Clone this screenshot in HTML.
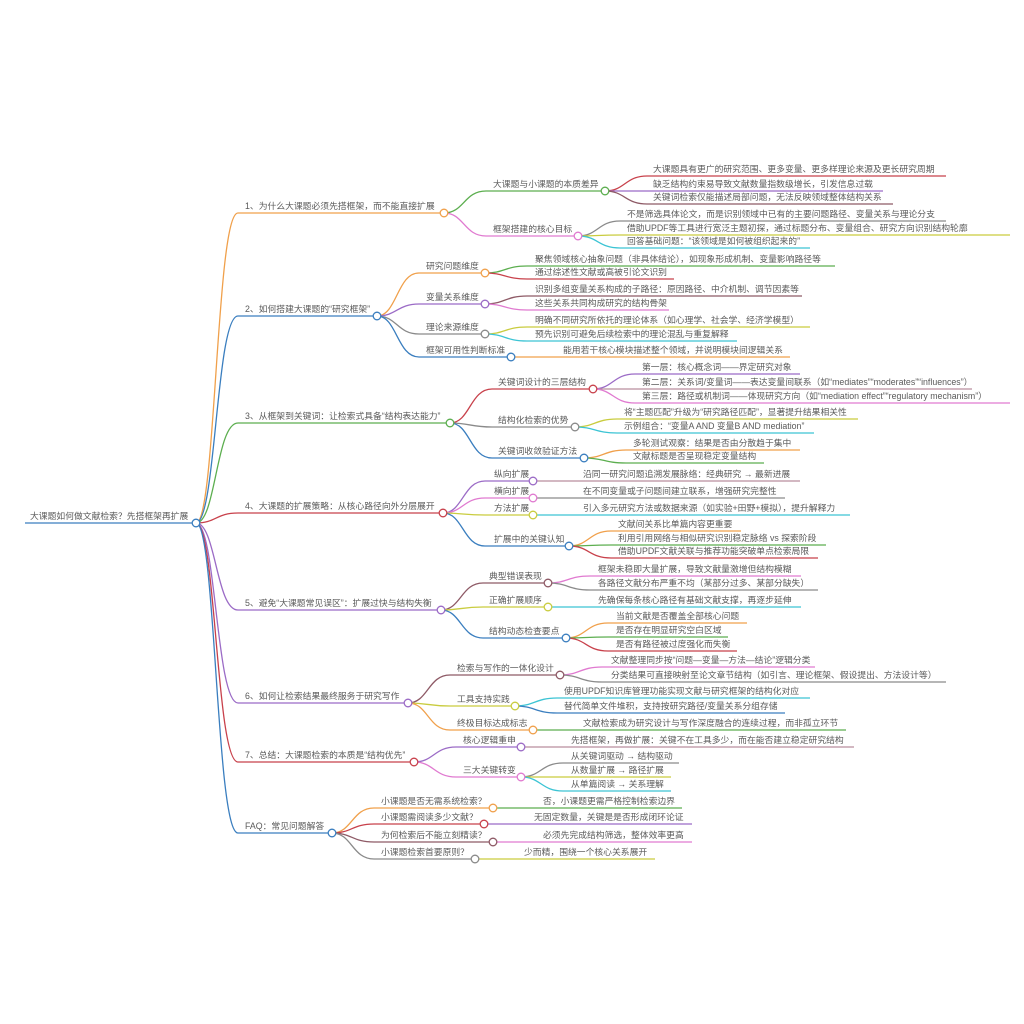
<!DOCTYPE html>
<html><head><meta charset="utf-8"><style>
html,body{margin:0;padding:0;background:#fff;width:1024px;height:1024px;overflow:hidden}
svg text{font-family:"Liberation Sans","Noto Sans CJK SC",sans-serif;font-size:8.8px;fill:#5a5a5a}
</style></head><body>
<svg id="s" width="1024" height="1024" xmlns="http://www.w3.org/2000/svg"></svg>
<script>
var O='#f0a04b',B='#3a7ebf',G='#5cae4f',R='#c8414b',P='#9b6bc6',K='#e07ad0',Y='#8a8a8a',L='#c9cc3f',C='#3cc4d4',M='#8e5a66',V='#b98e9e';
function n(t,x,y,ex,c,k){return {t:t,x:x,y:y,ex:ex,c:c,k:k||[]};}
var root=n("大课题如何做文献检索？先搭框架再扩展",30,523,196,B,[
 n("1、为什么大课题必须先搭框架，而不能直接扩展",245,213,444,O,[
  n("大课题与小课题的本质差异",493,191,605,G,[
   n("大课题具有更广的研究范围、更多变量、更多样理论来源及更长研究周期",653,176,946,R),
   n("缺乏结构约束易导致文献数量指数级增长，引发信息过载",653,191,883,P),
   n("关键词检索仅能描述局部问题，无法反映领域整体结构关系",653,204,893,M)]),
  n("框架搭建的核心目标",493,236,578,K,[
   n("不是筛选具体论文，而是识别领域中已有的主要问题路径、变量关系与理论分支",627,221,946,Y),
   n("借助UPDF等工具进行宽泛主题初探，通过标题分布、变量组合、研究方向识别结构轮廓",627,235,1010,L),
   n("回答基础问题：“该领域是如何被组织起来的”",627,248,810,C)])]),
 n("2、如何搭建大课题的“研究框架”",245,316,377,B,[
  n("研究问题维度",426,273,485,O,[
   n("聚焦领域核心抽象问题（非具体结论），如现象形成机制、变量影响路径等",535,266,835,G),
   n("通过综述性文献或高被引论文识别",535,279,674,R)]),
  n("变量关系维度",426,304,485,P,[
   n("识别多组变量关系构成的子路径：原因路径、中介机制、调节因素等",535,296,802,M),
   n("这些关系共同构成研究的结构骨架",535,310,669,K)]),
  n("理论来源维度",426,334,485,Y,[
   n("明确不同研究所依托的理论体系（如心理学、社会学、经济学模型）",535,327,810,L),
   n("预先识别可避免后续检索中的理论混乱与重复解释",535,341,737,C)]),
  n("框架可用性判断标准",426,357,511,B,[
   n("能用若干核心模块描述整个领域，并说明模块间逻辑关系",563,357,790,O)])]),
 n("3、从框架到关键词：让检索式具备“结构表达能力”",245,423,450,G,[
  n("关键词设计的三层结构",498,389,593,R,[
   n("第一层：核心概念词——界定研究对象",642,374,800,P),
   n("第二层：关系词/变量词——表达变量间联系（如“mediates”“moderates”“influences”）",642,389,972,V),
   n("第三层：路径或机制词——体现研究方向（如“mediation effect”“regulatory mechanism”）",642,403,1010,K)]),
  n("结构化检索的优势",498,427,575,Y,[
   n("将“主题匹配”升级为“研究路径匹配”，显著提升结果相关性",624,419,858,L),
   n("示例组合：“变量A AND 变量B AND mediation”",624,433,814,C)]),
  n("关键词收敛验证方法",498,458,584,B,[
   n("多轮测试观察：结果是否由分散趋于集中",633,450,800,O),
   n("文献标题是否呈现稳定变量结构",633,463,764,G)])]),
 n("4、大课题的扩展策略：从核心路径向外分层展开",245,513,443,R,[
  n("纵向扩展",494,481,533,P,[n("沿同一研究问题追溯发展脉络：经典研究 → 最新进展",583,481,800,V)]),
  n("横向扩展",494,498,533,K,[n("在不同变量或子问题间建立联系，增强研究完整性",583,498,785,Y)]),
  n("方法扩展",494,515,533,L,[n("引入多元研究方法或数据来源（如实验+田野+模拟），提升解释力",583,515,850,C)]),
  n("扩展中的关键认知",494,546,569,B,[
   n("文献间关系比单篇内容更重要",618,531,741,O),
   n("利用引用网络与相似研究识别稳定脉络 vs 探索阶段",618,545,826,G),
   n("借助UPDF文献关联与推荐功能突破单点检索局限",618,558,818,R)])]),
 n("5、避免“大课题常见误区”：扩展过快与结构失衡",245,610,441,P,[
  n("典型错误表现",489,583,548,M,[
   n("框架未稳即大量扩展，导致文献量激增但结构模糊",598,576,801,K),
   n("各路径文献分布严重不均（某部分过多、某部分缺失）",598,590,818,Y)]),
  n("正确扩展顺序",489,607,548,L,[n("先确保每条核心路径有基础文献支撑，再逐步延伸",598,607,801,C)]),
  n("结构动态检查要点",489,638,566,B,[
   n("当前文献是否覆盖全部核心问题",616,623,747,O),
   n("是否存在明显研究空白区域",616,637,728,G),
   n("是否有路径被过度强化而失衡",616,651,737,R)])]),
 n("6、如何让检索结果最终服务于研究写作",245,703,408,P,[
  n("检索与写作的一体化设计",457,675,560,M,[
   n("文献整理同步按“问题—变量—方法—结论”逻辑分类",611,667,815,K),
   n("分类结果可直接映射至论文章节结构（如引言、理论框架、假设提出、方法设计等）",611,682,946,Y)]),
  n("工具支持实践",457,706,515,L,[
   n("使用UPDF知识库管理功能实现文献与研究框架的结构化对应",564,698,810,C),
   n("替代简单文件堆积，支持按研究路径/变量关系分组存储",564,713,785,B)]),
  n("终极目标达成标志",457,730,533,O,[n("文献检索成为研究设计与写作深度融合的连续过程，而非孤立环节",583,730,846,G)])]),
 n("7、总结：大课题检索的本质是“结构优先”",245,762,414,R,[
  n("核心逻辑重申",463,747,521,P,[n("先搭框架，再做扩展：关键不在工具多少，而在能否建立稳定研究结构",571,747,854,V)]),
  n("三大关键转变",463,777,521,K,[
   n("从关键词驱动 → 结构驱动",571,763,679,Y),
   n("从数量扩展 → 路径扩展",571,777,671,L),
   n("从单篇阅读 → 关系理解",571,791,671,C)])]),
 n("FAQ：常见问题解答",245,833,332,B,[
  n("小课题是否无需系统检索？",381,808,493,O,[n("否，小课题更需严格控制检索边界",543,808,682,G)]),
  n("小课题需阅读多少文献？",381,824,484,R,[n("无固定数量，关键是是否形成闭环论证",534,824,692,P)]),
  n("为何检索后不能立刻精读？",381,842,493,M,[n("必须先完成结构筛选，整体效率更高",543,842,692,K)]),
  n("小课题检索首要原则？",381,859,475,Y,[n("少而精，围绕一个核心关系展开",524,859,655,L)])])]);
var out=[],circ=[],txt=[];
function draw(d,px,py){
  if(px===null){out.push('<path d="M25 '+d.y+' L'+d.ex+' '+d.y+'" stroke="'+d.c+'" stroke-width="1.3" fill="none"/>');}
  else{
    var xe=px+42;
    out.push('<path d="M'+px+' '+py+' C'+(px+20)+' '+py+','+(xe-22)+' '+d.y+','+xe+' '+d.y+' L'+d.ex+' '+d.y+'" stroke="'+d.c+'" stroke-width="1.3" fill="none"/>');
  }
  txt.push('<text x="'+d.x+'" y="'+(d.y-4)+'">'+d.t+'</text>');
  if(d.k.length){
    circ.push('<circle cx="'+d.ex+'" cy="'+d.y+'" r="3.8" fill="#fff" stroke="'+d.c+'" stroke-width="1.3"/>');
    d.k.forEach(function(k){draw(k,d.ex,d.y);});
  }
}
draw(root,null,null);
document.getElementById('s').innerHTML=out.join('')+circ.join('')+txt.join('');
</script>
</body></html>
